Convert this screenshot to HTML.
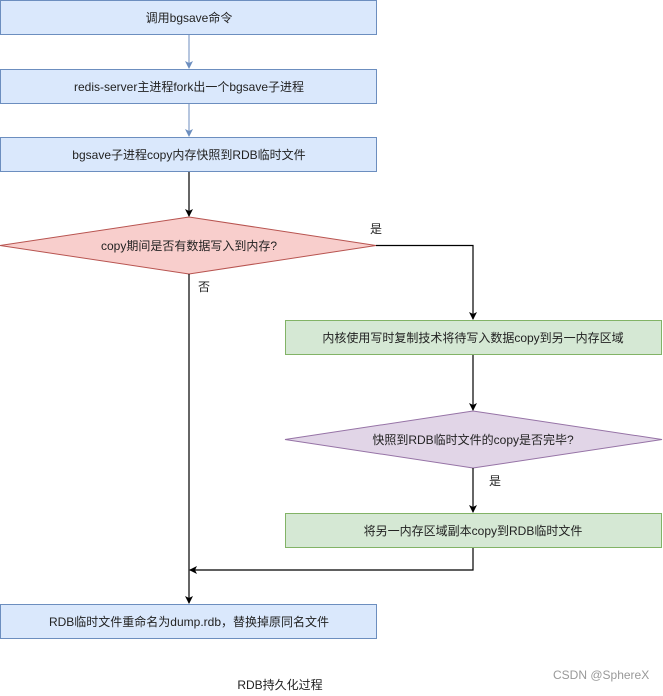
<!DOCTYPE html>
<html><head><meta charset="utf-8"><style>
body{margin:0;background:#fff;width:663px;height:691px;overflow:hidden}
svg text{font-family:"Liberation Sans","Noto Sans CJK SC",sans-serif;font-size:12px;fill:#222}
</style></head><body>
<svg width="663" height="691" viewBox="0 0 663 691" xmlns="http://www.w3.org/2000/svg">
<defs>
<marker id="ab" markerWidth="8" markerHeight="8" refX="7" refY="4" orient="auto" markerUnits="userSpaceOnUse"><path d="M0,0 L8,4 L0,8 L2,4 z" fill="#6c8ebf"/></marker>
<marker id="ak" markerWidth="8" markerHeight="8" refX="7" refY="4" orient="auto" markerUnits="userSpaceOnUse"><path d="M0,0 L8,4 L0,8 L2,4 z" fill="#000"/></marker>
</defs>
<g stroke="#6c8ebf" fill="#dae8fc">
<rect x="0.5" y="0.5" width="376" height="34"/>
<rect x="0.5" y="69.5" width="376" height="34"/>
<rect x="0.5" y="137.5" width="376" height="34"/>
<rect x="0.5" y="604.5" width="376" height="34"/>
</g>
<g stroke="#6c8ebf" fill="none">
<line x1="189" y1="35" x2="189" y2="68" marker-end="url(#ab)"/>
<line x1="189" y1="104" x2="189" y2="136" marker-end="url(#ab)"/>
</g>
<polygon points="0,245.5 189,217 376,245.5 189,274" fill="#f8cecc" stroke="#b85450"/>
<g stroke="#82b366" fill="#d5e8d4">
<rect x="285.5" y="320.5" width="376" height="34"/>
<rect x="285.5" y="513.5" width="376" height="34"/>
</g>
<polygon points="285,439.5 473,411 662,439.5 473,468" fill="#e1d5e7" stroke="#9673a6"/>
<g stroke="#000" fill="none" stroke-width="1.2">
<line x1="189" y1="172" x2="189" y2="216" marker-end="url(#ak)"/>
<polyline points="376,245.5 473,245.5 473,319" marker-end="url(#ak)"/>
<line x1="473" y1="355" x2="473" y2="410" marker-end="url(#ak)"/>
<line x1="473" y1="468" x2="473" y2="512" marker-end="url(#ak)"/>
<polyline points="473,548 473,570 190,570" marker-end="url(#ak)"/>
<line x1="189" y1="274" x2="189" y2="603" marker-end="url(#ak)"/>
</g>
<g text-anchor="middle">
<text x="189" y="22">调用bgsave命令</text>
<text x="189" y="91">redis-server主进程fork出一个bgsave子进程</text>
<text x="189" y="159">bgsave子进程copy内存快照到RDB临时文件</text>
<text x="189" y="250">copy期间是否有数据写入到内存?</text>
<text x="473" y="342">内核使用写时复制技术将待写入数据copy到另一内存区域</text>
<text x="473" y="444">快照到RDB临时文件的copy是否完毕?</text>
<text x="473" y="535">将另一内存区域副本copy到RDB临时文件</text>
<text x="189" y="626">RDB临时文件重命名为dump.rdb，替换掉原同名文件</text>
<text x="280" y="689">RDB持久化过程</text>
</g>
<text x="370" y="233">是</text>
<text x="198" y="291">否</text>
<text x="489" y="485">是</text>
<text x="553" y="679" style="fill:#999">CSDN @SphereX</text>
</svg>
</body></html>
